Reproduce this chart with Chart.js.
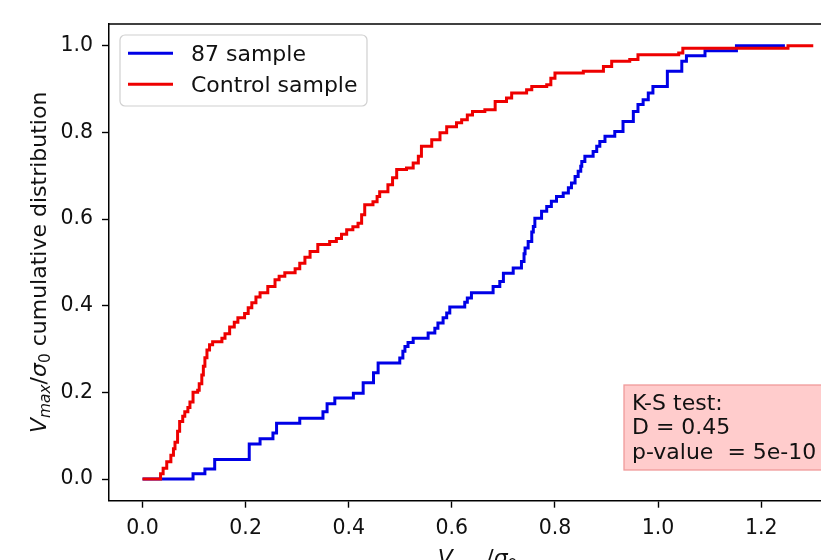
<!DOCTYPE html>
<html>
<head>
<meta charset="utf-8">
<script src="https://cdn.jsdelivr.net/npm/chart.js@4/dist/chart.umd.min.js"></script>
<style>
  html, body { margin: 0; padding: 0; background: #ffffff; }
  #wrap { width: 821px; height: 560px; }
</style>
</head>
<body>
<div id="wrap"><canvas id="c" width="821" height="560"></canvas></div>
<script>
// ---- Data ----
const seriesNames = ["87 sample", "Control sample"];

// 87 sample ECDF: x position of each jump and the new level
const blueX = [0.000, 0.098, 0.121, 0.140, 0.207, 0.228, 0.253, 0.260, 0.305, 0.350, 0.358, 0.373,
  0.409, 0.428, 0.448, 0.457, 0.499, 0.505, 0.509, 0.515, 0.525, 0.554, 0.567, 0.573, 0.583, 0.590,
  0.596, 0.625, 0.630, 0.638, 0.680, 0.693, 0.700, 0.719, 0.735, 0.740, 0.742, 0.748, 0.755, 0.758,
  0.761, 0.774, 0.784, 0.793, 0.803, 0.816, 0.826, 0.832, 0.839, 0.845, 0.850, 0.852, 0.858, 0.874,
  0.881, 0.887, 0.897, 0.916, 0.932, 0.952, 0.961, 0.971, 0.981, 0.990, 1.018, 1.046, 1.055, 1.091,
  1.152, 1.246];
const blueY = [0.000, 0.012, 0.023, 0.045, 0.081, 0.093, 0.106, 0.129, 0.140, 0.155, 0.174, 0.187,
  0.198, 0.222, 0.245, 0.268, 0.279, 0.295, 0.306, 0.315, 0.325, 0.337, 0.348, 0.360, 0.372, 0.383,
  0.397, 0.408, 0.418, 0.430, 0.444, 0.456, 0.475, 0.487, 0.502, 0.520, 0.533, 0.548, 0.570, 0.583,
  0.602, 0.618, 0.629, 0.641, 0.652, 0.660, 0.672, 0.683, 0.698, 0.710, 0.722, 0.733, 0.745, 0.756,
  0.768, 0.779, 0.791, 0.802, 0.825, 0.848, 0.864, 0.875, 0.891, 0.906, 0.941, 0.964, 0.977, 0.988,
  1.000, 1.000];

// Control sample ECDF
const redX = [0.000, 0.035, 0.040, 0.047, 0.055, 0.060, 0.063, 0.068, 0.072, 0.078, 0.082, 0.088,
  0.092, 0.098, 0.107, 0.110, 0.115, 0.118, 0.121, 0.125, 0.130, 0.136, 0.154, 0.160, 0.169, 0.178,
  0.185, 0.198, 0.205, 0.212, 0.220, 0.228, 0.243, 0.257, 0.265, 0.276, 0.296, 0.305, 0.315, 0.325,
  0.340, 0.363, 0.376, 0.386, 0.396, 0.408, 0.418, 0.425, 0.431, 0.447, 0.455, 0.460, 0.476, 0.485,
  0.493, 0.512, 0.525, 0.535, 0.541, 0.561, 0.577, 0.590, 0.609, 0.619, 0.630, 0.640, 0.664, 0.684,
  0.706, 0.716, 0.745, 0.755, 0.784, 0.792, 0.800, 0.855, 0.894, 0.910, 0.945, 0.961, 1.040, 1.048,
  1.252, 1.301];
const redY = [0.000, 0.012, 0.025, 0.040, 0.055, 0.070, 0.085, 0.110, 0.133, 0.145, 0.155, 0.165,
  0.178, 0.200, 0.205, 0.220, 0.240, 0.260, 0.280, 0.298, 0.310, 0.317, 0.325, 0.335, 0.351, 0.362,
  0.372, 0.382, 0.395, 0.407, 0.420, 0.430, 0.444, 0.460, 0.468, 0.476, 0.485, 0.498, 0.512, 0.525,
  0.541, 0.548, 0.555, 0.565, 0.575, 0.582, 0.590, 0.610, 0.633, 0.640, 0.652, 0.663, 0.679, 0.695,
  0.714, 0.718, 0.729, 0.745, 0.768, 0.783, 0.799, 0.813, 0.822, 0.829, 0.840, 0.848, 0.852, 0.871,
  0.879, 0.891, 0.898, 0.906, 0.910, 0.925, 0.937, 0.941, 0.952, 0.964, 0.968, 0.979, 0.983, 0.994,
  1.000, 1.000];

const xTicks = [0.0, 0.2, 0.4, 0.6, 0.8, 1.0, 1.2];
const yTicks = [0.0, 0.2, 0.4, 0.6, 0.8, 1.0];
const ksLines = ["K-S test:", "D = 0.45", "p-value  = 5e-10"];

// ---- Styling ----
const FONT = "'DejaVu Sans', sans-serif";
const TICK_PX = 20.5;
const LEG_PX = 22;
const LAB_PX = 22;

const toPts = (xs, ys) => xs.map((x, i) => ({ x: x, y: ys[i] }));

function drawMath(ctx, pieces, size) {
  // pieces: [text, italic, sub]
  let items = pieces.map(p => {
    const fs = p[2] ? size * 0.7 : size;
    const f = (p[1] ? "oblique " : "") + fs + "px " + FONT;
    ctx.font = f;
    return { t: p[0], f: f, w: ctx.measureText(p[0]).width, dy: p[2] ? size * 0.22 : 0 };
  });
  const total = items.reduce((s, it) => s + it.w, 0);
  let x = -total / 2;
  ctx.textAlign = "left";
  ctx.textBaseline = "alphabetic";
  items.forEach(it => {
    ctx.font = it.f;
    ctx.fillText(it.t, x, it.dy);
    x += it.w;
  });
}

const decor = {
  id: "decor",
  afterDraw(chart) {
    const ctx = chart.ctx;
    const a = chart.chartArea;
    ctx.save();
    // top spine
    ctx.strokeStyle = "#000";
    ctx.lineWidth = 1.5;
    ctx.beginPath();
    ctx.moveTo(a.left - 0.75, a.top);
    ctx.lineTo(a.right + 2, a.top);
    ctx.stroke();

    // K-S box
    ctx.fillStyle = "#ffcccc";
    ctx.strokeStyle = "#f09a9a";
    ctx.lineWidth = 1.3;
    ctx.fillRect(624, 385, 210, 85);
    ctx.strokeRect(624, 385, 210, 85);
    ctx.fillStyle = "#111";
    ctx.font = LEG_PX + "px " + FONT;
    ctx.textAlign = "left";
    ctx.textBaseline = "alphabetic";
    ksLines.forEach((t, i) => ctx.fillText(t, 632, 409.5 + i * 24.5));

    // legend
    const lx = 120, ly = 35, lw = 247, lh = 71, r = 5;
    ctx.beginPath();
    ctx.moveTo(lx + r, ly);
    ctx.arcTo(lx + lw, ly, lx + lw, ly + lh, r);
    ctx.arcTo(lx + lw, ly + lh, lx, ly + lh, r);
    ctx.arcTo(lx, ly + lh, lx, ly, r);
    ctx.arcTo(lx, ly, lx + lw, ly, r);
    ctx.closePath();
    ctx.fillStyle = "rgba(255,255,255,0.8)";
    ctx.fill();
    ctx.strokeStyle = "#d0d0d0";
    ctx.lineWidth = 1.2;
    ctx.stroke();
    const ds = chart.data.datasets;
    [0, 1].forEach(i => {
      const yc = 53.3 + i * 31;
      ctx.strokeStyle = ds[i].borderColor;
      ctx.lineWidth = 3;
      ctx.beginPath();
      ctx.moveTo(128, yc);
      ctx.lineTo(173, yc);
      ctx.stroke();
      ctx.fillStyle = "#111";
      ctx.font = LEG_PX + "px " + FONT;
      ctx.textAlign = "left";
      ctx.textBaseline = "alphabetic";
      ctx.fillText(ds[i].label, 191, 60.8 + i * 31.5);
    });

    // y axis title
    ctx.fillStyle = "#111";
    ctx.save();
    ctx.translate(45.5, (a.top + a.bottom) / 2);
    ctx.rotate(-Math.PI / 2);
    drawMath(ctx, [["V", true, false], ["max", true, true], ["/", false, false], ["σ", true, false], ["0", false, true], [" cumulative distribution", false, false]], LAB_PX);
    ctx.restore();

    // x axis title (partly below the frame, as in the reference)
    ctx.save();
    ctx.translate(477.5, 565);
    drawMath(ctx, [["V", true, false], ["max", true, true], ["/", false, false], ["σ", true, false], ["0", false, true]], LAB_PX);
    ctx.restore();
    ctx.restore();
  }
};

new Chart(document.getElementById("c"), {
  type: "line",
  data: {
    datasets: [
      { label: seriesNames[0], data: toPts(blueX, blueY), borderColor: "#0000e6", backgroundColor: "#0000e6",
        borderWidth: 3, pointRadius: 0, stepped: "before", fill: false, order: 1 },
      { label: seriesNames[1], data: toPts(redX, redY), borderColor: "#ee0000", backgroundColor: "#ee0000",
        borderWidth: 3, pointRadius: 0, stepped: "before", fill: false, order: 0 }
    ]
  },
  options: {
    responsive: false,
    animation: false,
    devicePixelRatio: 1,
    layout: { padding: { top: 24, left: 0, right: 0, bottom: 0 } },
    plugins: { legend: { display: false }, tooltip: { enabled: false } },
    scales: {
      x: {
        type: "linear", min: -0.065, max: 1.316,
        afterBuildTicks: s => { s.ticks = xTicks.map(v => ({ value: v })); },
        afterFit: s => { s.height = 59.3; },
        ticks: { callback: v => Number(v).toFixed(1), color: "#111", font: { family: FONT, size: TICK_PX }, padding: 9, maxRotation: 0, autoSkip: false },
        grid: { drawOnChartArea: false, drawTicks: true, tickLength: 7, tickColor: "#000", tickWidth: 1.4, color: "#000" },
        border: { display: true, color: "#000", width: 1.5 }
      },
      y: {
        type: "linear", min: -0.05, max: 1.05,
        afterBuildTicks: s => { s.ticks = yTicks.map(v => ({ value: v })); },
        afterFit: s => { s.width = 109; },
        ticks: { callback: v => Number(v).toFixed(1), color: "#111", font: { family: FONT, size: TICK_PX }, padding: 9, autoSkip: false },
        grid: { drawOnChartArea: false, drawTicks: true, tickLength: 7, tickColor: "#000", tickWidth: 1.4, color: "#000" },
        border: { display: true, color: "#000", width: 1.5 }
      }
    }
  },
  plugins: [decor]
});
</script>
</body>
</html>
